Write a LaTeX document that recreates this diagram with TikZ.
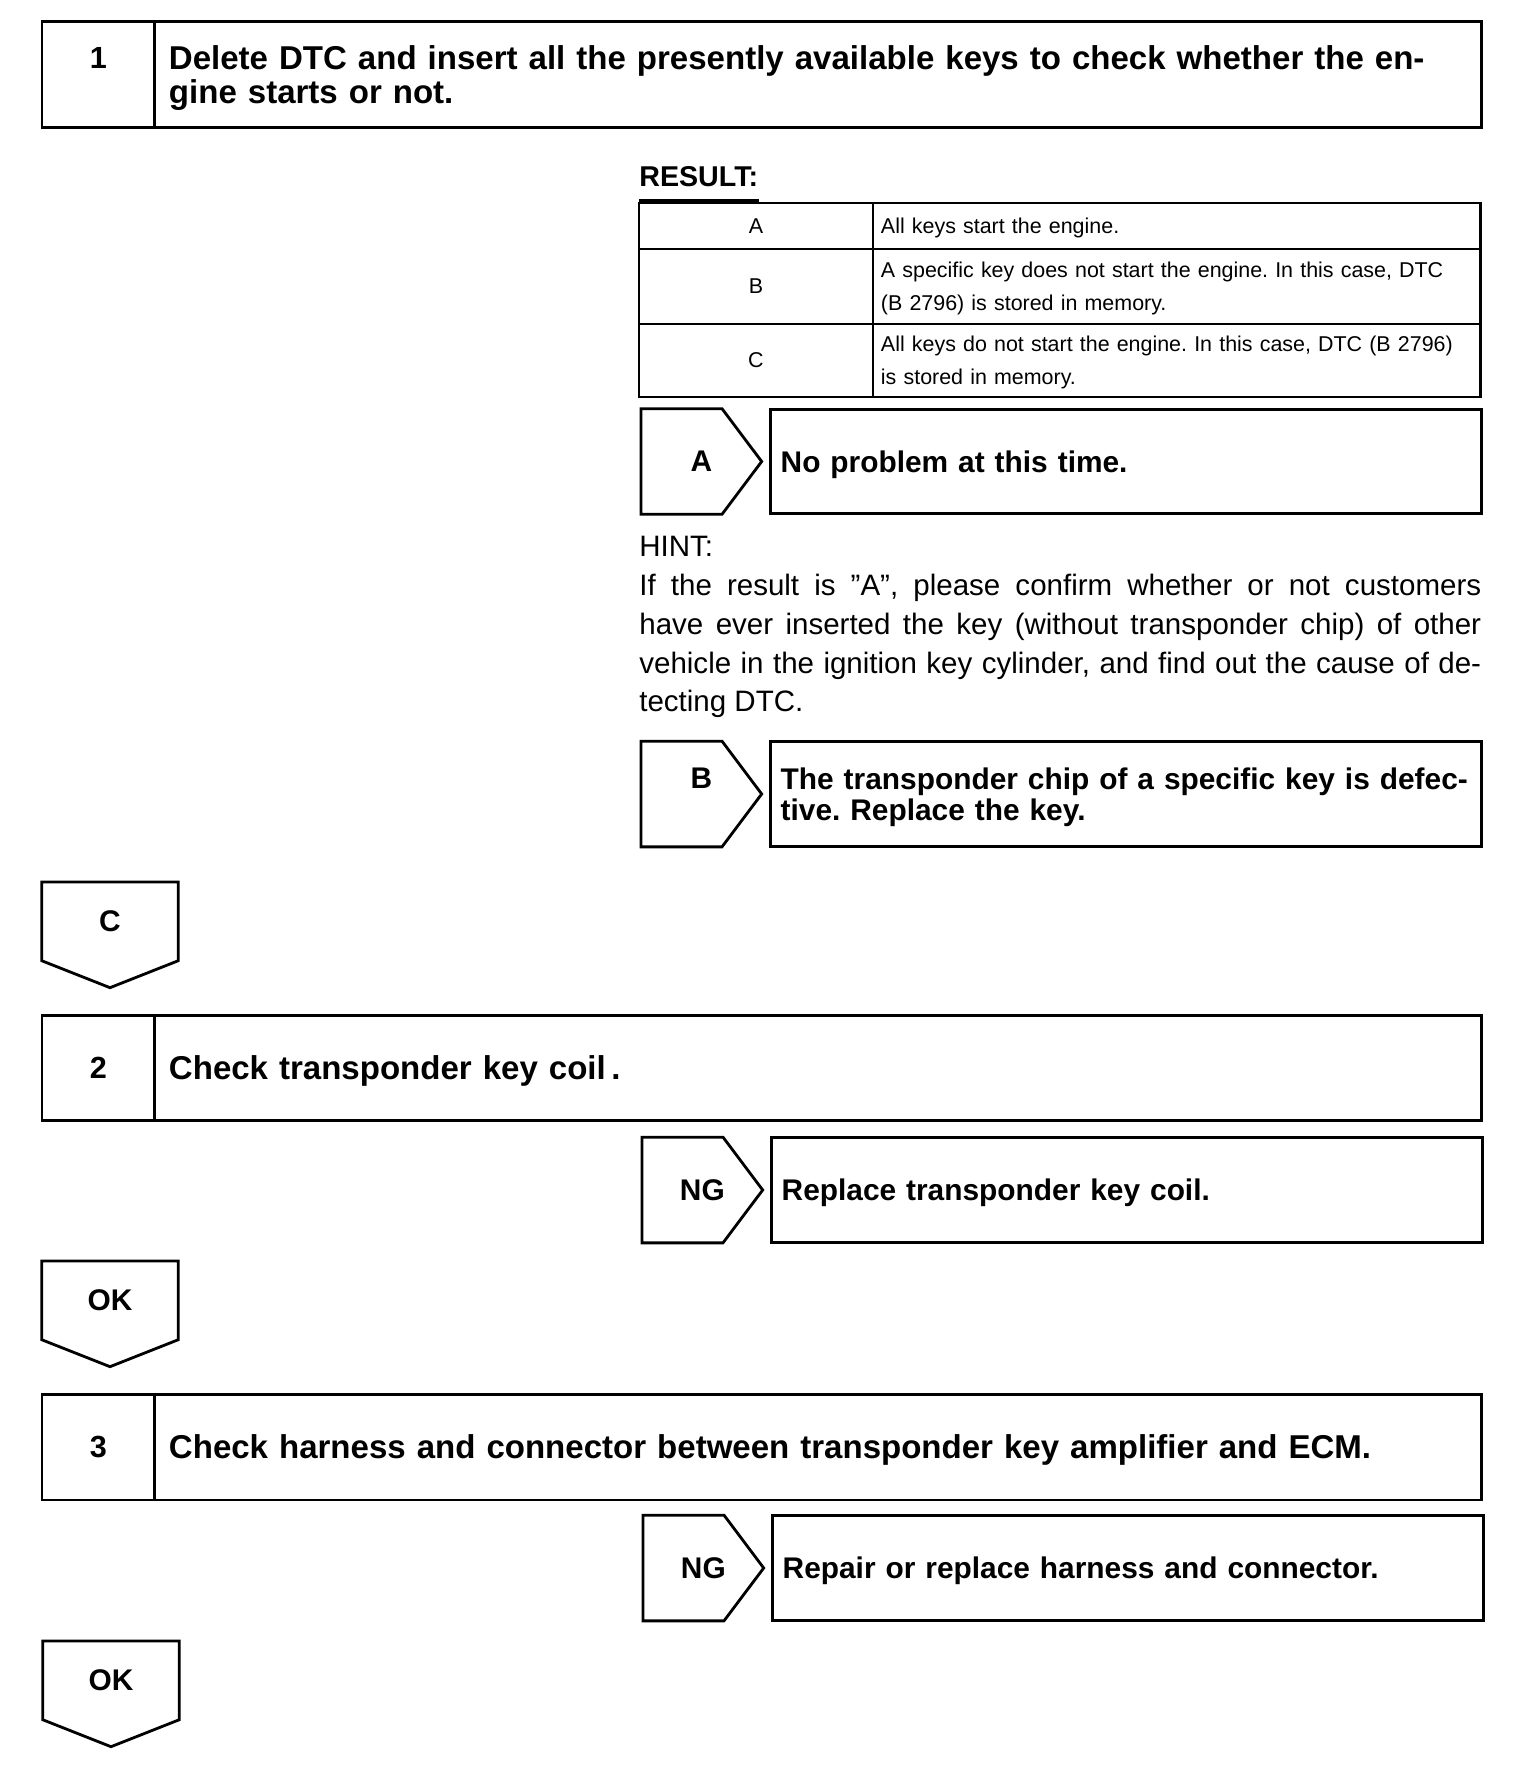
\documentclass[tikz,border=0pt]{standalone}
\usepackage{fontspec}
\setmainfont{Liberation Sans}
\usetikzlibrary{positioning}
\frenchspacing

\begin{document}
\begin{tikzpicture}[x=0.02cm, y=-0.02cm, node distance=0pt]
    \tikzstyle{frame} = [draw, line width=1.7pt, outer sep=0pt]
    \tikzstyle{num} = [frame, rectangle, minimum width=2.26cm, minimum height=2.12cm, align=center, font=\bfseries\fontsize{17.4}{19.3}\selectfont]
    \tikzstyle{stepbox} = [frame, rectangle, minimum width=26.54cm, minimum height=2.12cm, inner xsep=0.28cm, text width=25.98cm, text depth=0pt, align=left, font=\bfseries\fontsize{18.8}{19.3}\selectfont]
    \tikzstyle{keycell} = [draw, line width=1.2pt, outer sep=0pt, minimum width=4.68cm, font=\fontsize{12.2}{19}\selectfont]
    \tikzstyle{valcell} = [draw, line width=1.2pt, outer sep=0pt, minimum width=12.16cm, inner xsep=0.16cm, text width=11.84cm, text depth=0pt, align=left, font=\fontsize{12.2}{19}\selectfont]
    \tikzstyle{tagr} = [minimum width=2.4cm, minimum height=2.1cm, inner sep=0pt, align=center, font=\bfseries\fontsize{17}{17.6}\selectfont]
    \tikzstyle{tagd} = [minimum width=2.72cm, minimum height=1.56cm, inner sep=0pt, font=\bfseries\fontsize{17}{17}\selectfont]
    \tikzstyle{resbox} = [frame, rectangle, minimum width=14.22cm, minimum height=2.1cm, inner xsep=0.2cm, text width=13.82cm, text depth=0pt, align=left, font=\bfseries\fontsize{17}{17.6}\selectfont]
    \tikzstyle{hint} = [inner sep=0pt, text width=16.84cm, align=justify, font=\fontsize{16.8}{22.1}\selectfont]
    \tikzstyle{outline} = [draw, line width=1.6pt, line join=miter]

    \useasboundingbox (0,0) rectangle (1520,1780);

    % step 1
    \node[num, anchor=north west] (n1) at (42,22) {1\\\mbox{}};
    \node[stepbox, text depth=19.3pt, right=of n1] (s1) {Delete DTC and insert all the presently available keys to check whether the en-\\gine starts or not.};

    % result table
    \node[anchor=base west, inner sep=0pt, font=\bfseries\fontsize{16.3}{16.3}\selectfont] (res) at (639,187) {RESULT:};
    \draw[line width=1.7pt] ([yshift=-0.26cm]res.south west) -- ([yshift=-0.26cm]res.south east);

    \node[keycell, minimum height=0.92cm, anchor=north west] (ka) at (639,203) {A};
    \node[valcell, minimum height=0.92cm, right=of ka] (va) {All keys start the engine.};
    \node[keycell, minimum height=1.5cm, below=of ka] (kb) {B};
    \node[valcell, minimum height=1.5cm, text depth=19pt, right=of kb] (vb) {A specific key does not start the engine. In this case, DTC\\(B 2796) is stored in memory.};
    \node[keycell, minimum height=1.46cm, below=of kb] (kc) {C};
    \node[valcell, minimum height=1.46cm, text depth=19pt, right=of kc] (vc) {All keys do not start the engine. In this case, DTC (B 2796)\\is stored in memory.};
    \draw[line width=1.6pt] (ka.north west) rectangle (vc.south east);

    % A
    \node[tagr, anchor=west] (ta) at (641,461.5) {A};
    \node[resbox, right=0.18cm of ta] (ra) {No problem at this time.};

    \node[hint, anchor=north west] (hint) at (639,536) {HINT:\\If the result is ”A”, please confirm whether or not customers\linebreak have ever inserted the key (without transponder chip) of other\linebreak vehicle in the ignition key cylinder, and find out the cause of de-\linebreak tecting DTC.};

    % B
    \node[tagr, anchor=west] (tb) at (641,794) {B\\\mbox{}};
    \node[resbox, text depth=17.6pt, right=0.18cm of tb] (rb) {The transponder chip of a specific key is defec-\\tive. Replace the key.};

    % C
    \node[tagd, anchor=north] (tc) at (110,882) {C};

    % step 2
    \node[num, anchor=north west] (n2) at (42,1015) {2};
    \node[stepbox, right=of n2] (s2) {Check transponder key coil\,.};

    \node[tagr, anchor=west] (tn1) at (642,1190) {NG};
    \node[resbox, right=0.18cm of tn1] (rn1) {Replace transponder key coil.};

    \node[tagd, anchor=north] (tk1) at (110,1261) {OK};

    % step 3
    \node[num, anchor=north west] (n3) at (42,1394) {3};
    \node[stepbox, right=of n3] (s3) {Check harness and connector between transponder key amplifier and ECM.};

    \node[tagr, anchor=west] (tn2) at (643,1568) {NG};
    \node[resbox, right=0.18cm of tn2] (rn2) {Repair or replace harness and connector.};

    \node[tagd, anchor=north] (tk2) at (111,1641) {OK};

    % tag outlines
    \foreach \t in {ta,tb,tn1,tn2}
        \draw[outline] (\t.north west) -- ++(81,0) -- (\t.east) -- ([xshift=1.62cm]\t.south west) -- (\t.south west) -- cycle;
    \foreach \t in {tc,tk1,tk2}
        \draw[outline] (\t.north west) -- (\t.south west) -- ([yshift=-0.54cm]\t.south) -- (\t.south east) -- (\t.north east) -- cycle;
\end{tikzpicture}
\end{document}
